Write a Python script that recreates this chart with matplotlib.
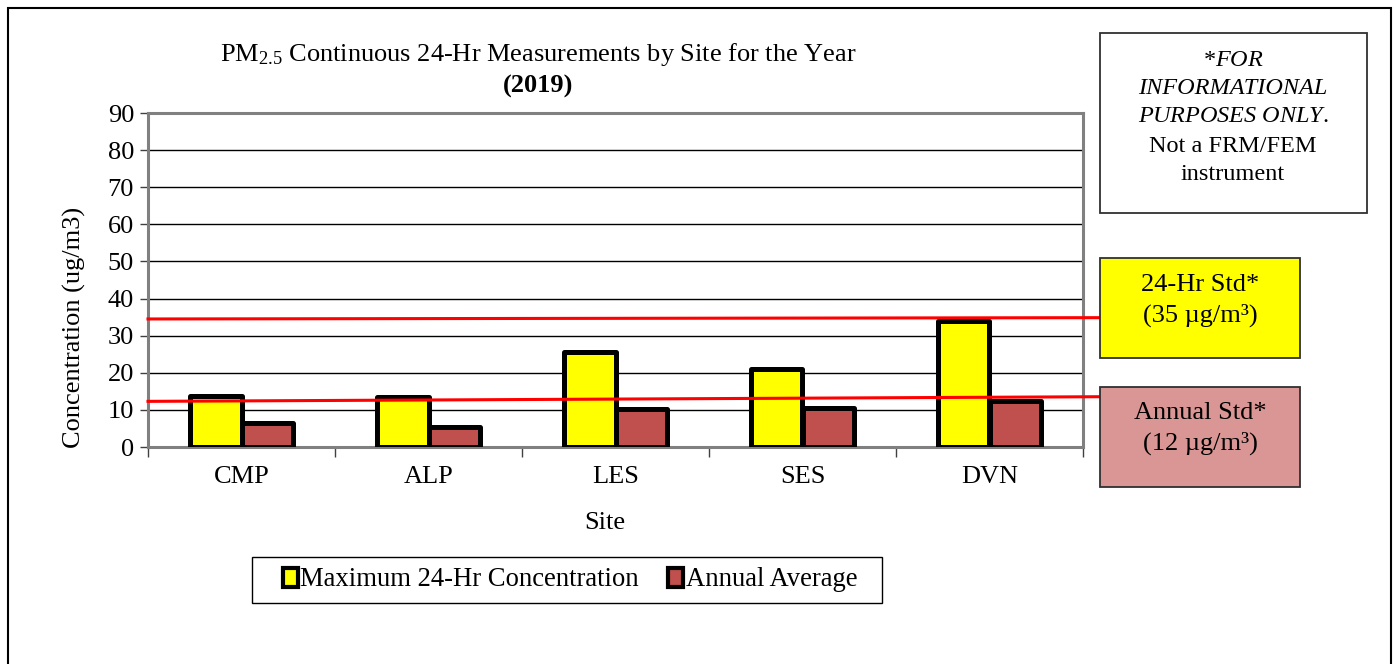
import matplotlib.pyplot as plt
from matplotlib.patches import Patch, Rectangle

# data
sites = ["CMP", "ALP", "LES", "SES", "DVN"]
max_24hr = [13.8, 13.4, 25.6, 21.1, 34.0]
annual_avg = [6.4, 5.3, 10.2, 10.6, 12.5]
# the two standard lines were drawn by hand, slightly tilted (left end, right end)
std_24hr_line = [34.5, 34.85]
std_annual_line = [12.3, 13.55]

W, H = 1396, 664
SERIF = "Liberation Serif"
plt.rcParams["font.family"] = SERIF
plt.rcParams["mathtext.fontset"] = "custom"
plt.rcParams["mathtext.rm"] = SERIF
plt.rcParams["mathtext.it"] = SERIF + ":italic"
plt.rcParams["mathtext.bf"] = SERIF + ":bold"


def fx(px):
    return px / W


def fy(py):
    return 1 - py / H


fig = plt.figure(figsize=(W / 100, H / 100), dpi=100)
ax = fig.add_axes([fx(148), fy(447), fx(1083) - fx(148), fy(113) - fy(447)])

x = list(range(len(sites)))
bw = 0.275
ax.bar([i - bw / 2 for i in x], max_24hr, bw, color="#FFFF00",
       edgecolor="black", linewidth=3.6, joinstyle="round", zorder=3)
ax.bar([i + bw / 2 for i in x], annual_avg, bw, color="#C0504D",
       edgecolor="black", linewidth=3.6, joinstyle="round", zorder=3)

ax.set_xlim(-0.5, len(sites) - 0.5)
ax.set_ylim(0, 90)
ax.set_yticks(range(0, 91, 10))
ax.set_xticks(x)
ax.set_xticklabels(sites)
ax.set_xticks([i - 0.5 for i in range(len(sites) + 1)], minor=True)
ax.tick_params(axis="x", which="major", length=0, pad=14, labelsize=19)
ax.tick_params(axis="x", which="minor", length=7, width=1, color="#404040")
ax.tick_params(axis="y", length=6, width=1, color="#404040", labelsize=19, pad=4)
ax.grid(axis="y", color="black", linewidth=1, zorder=0)
ax.set_axisbelow(True)
for s in ax.spines.values():
    s.set_color("#808080")
    s.set_linewidth(2.2)

# standard lines, running out to the boxes on the right
x_end = -0.5 + (1100 - 148) / 187
ax.plot([-0.5, x_end], std_24hr_line, color="#FF0000", linewidth=2.2,
        clip_on=False, zorder=4)
ax.plot([-0.5, x_end], std_annual_line, color="#FF0000", linewidth=2.2,
        clip_on=False, zorder=4)

# titles and axis labels
fig.text(fx(538), fy(55), "PM$_{2.5}$ Continuous 24-Hr Measurements by Site for the Year",
         ha="center", va="center", fontsize=19)
fig.text(fx(538), fy(86), "(2019)", ha="center", va="center",
         fontsize=19, fontweight="bold")
fig.text(fx(74), fy(327), "Concentration (ug/m3)", rotation=90,
         ha="center", va="center", fontsize=19)
fig.text(fx(605), fy(523), "Site", ha="center", va="center", fontsize=19)


def box(x0, y0, x1, y1, color, edge="#303030", lw=1.3):
    fig.patches.append(Rectangle((fx(x0), fy(y1)), fx(x1) - fx(x0), fy(y0) - fy(y1),
                                 transform=fig.transFigure, facecolor=color,
                                 edgecolor=edge, linewidth=lw))


# legend (frame drawn separately so it can be wider than its contents)
box(252, 557, 882, 603, "white", edge="black", lw=1)
handles = [Patch(facecolor="#FFFF00", edgecolor="black", linewidth=3),
           Patch(facecolor="#C0504D", edgecolor="black", linewidth=3)]
leg = fig.legend(handles, ["Maximum 24-Hr Concentration", "Annual Average"],
                 loc="center", bbox_to_anchor=(fx(570), fy(580)), ncol=2,
                 fontsize=19.2, frameon=False,
                 handlelength=0.55, handleheight=0.7, handletextpad=0.1,
                 columnspacing=1.1, borderpad=0.4)

# boxes on the right
box(1100, 33, 1367, 213, "white")
box(1100, 258, 1300, 358, "#FFFF00")
box(1100, 387, 1300, 487, "#D99694")

fig.text(fx(1233), fy(60), "*$\\it{FOR}$", ha="center", va="center", fontsize=17.5)
fig.text(fx(1233), fy(89), "INFORMATIONAL", ha="center", va="center", fontsize=17.5, style="italic")
fig.text(fx(1233), fy(117), "$\\it{PURPOSES\\ ONLY}$.", ha="center", va="center", fontsize=17.5)
fig.text(fx(1233), fy(146), "Not a FRM/FEM", ha="center", va="center", fontsize=17.5)
fig.text(fx(1233), fy(175), "instrument", ha="center", va="center", fontsize=17.5)

fig.text(fx(1200), fy(285), "24-Hr Std*", ha="center", va="center", fontsize=19)
fig.text(fx(1200), fy(315), "(35 µg/m³)", ha="center", va="center", fontsize=19)
fig.text(fx(1200), fy(413), "Annual Std*", ha="center", va="center", fontsize=19)
fig.text(fx(1200), fy(443), "(12 µg/m³)", ha="center", va="center", fontsize=19)

# outer frame
fig.patches.append(Rectangle((fx(8), fy(680)), fx(1391) - fx(8), fy(8) - fy(680),
                             transform=fig.transFigure, facecolor="none",
                             edgecolor="black", linewidth=1.5))

fig.savefig("out.png", dpi=100)
